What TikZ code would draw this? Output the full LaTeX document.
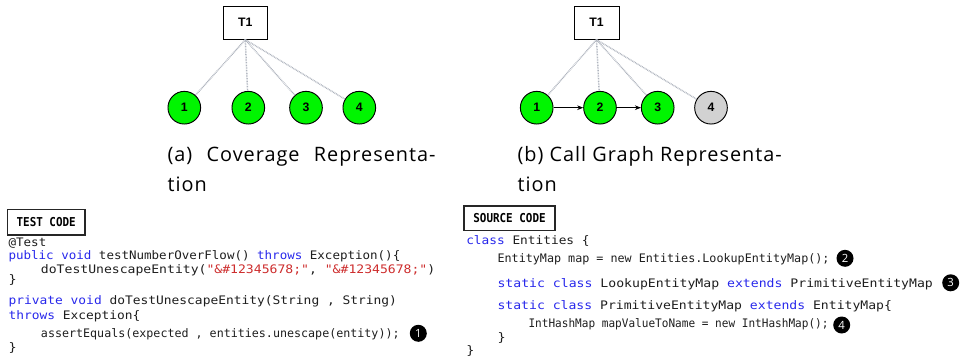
\documentclass[tikz,border=0pt]{standalone}
\usepackage{fontspec}
\usepackage{graphicx}
\usetikzlibrary{arrows.meta}
\newfontfamily\capfont[LetterSpace=5]{Open Sans}
\newfontfamily\numfont{Open Sans}
\newfontfamily\nodefont{Liberation Sans}
\newfontfamily\codefont[FakeStretch=1.15]{DejaVu Sans Mono}
\newfontfamily\labfont[FakeStretch=0.89]{DejaVu Sans Mono}
\definecolor{kwblue}{RGB}{40,40,235}
\definecolor{strred}{RGB}{205,45,45}
\definecolor{codetxt}{RGB}{30,30,30}
\definecolor{dotgray}{RGB}{175,180,190}
\definecolor{nodegreen}{RGB}{0,245,0}
\definecolor{nodegray}{RGB}{210,210,210}
\newcommand{\kw}[1]{\textcolor{kwblue}{#1}}
\newcommand{\str}[1]{\textcolor{strred}{#1}}
\newcommand{\cl}[2]{\resizebox{#1pt}{\height}{#2}}
\tikzset{
  tbox/.style={draw=black, line width=0.7pt, fill=white, minimum width=33pt, minimum height=24.75pt, font=\nodefont\bfseries\fontsize{9.2pt}{11pt}\selectfont, inner sep=0pt},
  gnode/.style={circle, draw=black, line width=0.7pt, fill=nodegreen, minimum size=24.5pt, inner sep=0pt, font=\nodefont\bfseries\fontsize{9.2pt}{11pt}\selectfont},
  graynode/.style={gnode, fill=nodegray},
  cov/.style={draw=dotgray, line width=1.1pt, dash pattern=on 0.6pt off 0.6pt},
  call/.style={draw=black, line width=0.6pt, -{Stealth[length=4.5pt,width=3.5pt]}},
  captext/.style={anchor=base west, inner sep=0pt, font=\capfont\fontsize{14.9pt}{17pt}\selectfont},
  code/.style={anchor=base west, inner sep=0pt, text=codetxt, font=\codefont\fontsize{8.8pt}{10pt}\selectfont},
  codelabel/.style={draw=black!85, line width=0.9pt, inner sep=0pt, font=\labfont\bfseries\fontsize{9.2pt}{11pt}\selectfont},
  marker/.style={circle, fill=black, text=white, minimum size=12.75pt, inner sep=0pt, font=\numfont\fontsize{8.5pt}{10pt}\selectfont}
}
\begin{document}
\begin{tikzpicture}[x=0.75pt, y=-0.75pt]
\useasboundingbox (0,0) rectangle (963,360);
% ---------- (a) coverage ----------
\node[tbox] (ta) at (245.3,22.7) {T1};
\node[gnode] (a1) at (184.3,107.7) {1};
\node[gnode] (a2) at (248.3,107.7) {2};
\node[gnode] (a3) at (306,107.7) {3};
\node[gnode] (a4) at (359.3,107.7) {4};
\foreach \n in {a1,a2,a3,a4} \draw[cov] (ta.south) -- (\n);
\node[captext] (capa1) at (167.3,161) {\makebox[201pt][s]{(a) Coverage Representa-}};
\node[captext] (capa2) at (167.3,191) {tion};
% ---------- (b) call graph ----------
\node[tbox, minimum width=33.75pt] (tb) at (596.5,22.7) {T1};
\node[gnode] (b1) at (536.7,107.7) {1};
\node[gnode] (b2) at (600,107.7) {2};
\node[gnode] (b3) at (657.7,107.7) {3};
\node[graynode] (b4) at (711,107.7) {4};
\foreach \n in {b1,b2,b3,b4} \draw[cov] (tb.south) -- (\n);
\draw[call] (b1) -- (b2);
\draw[call] (b2) -- (b3);
\node[captext] (capb1) at (517.3,161) {(b) Call Graph Representa-};
\node[captext] (capb2) at (517.3,191) {tion};
% ---------- test code ----------
\node[codelabel, minimum width=58.3pt, minimum height=19.3pt] (tc) at (46.2,222.2) {TEST CODE};
\node[code] (t1) at (8.3,246.5) {\cl{28.3}{@Test}};
\node[code] (t2) at (8.3,259) {\cl{293.8}{\kw{public} \kw{void} testNumberOverFlow() \kw{throws} Exception()\{}};
\node[code] (t3) at (40.7,273) {\cl{295.7}{doTestUnescapeEntity(\str{"\&\#12345678;"}, \str{"\&\#12345678;"})}};
\node[code] (t4) at (8.3,283.5) {\}};
\node[code] (t5) at (8.3,304.3) {\cl{291.3}{\kw{private} \kw{void} doTestUnescapeEntity(String , String)}};
\node[code] (t6) at (8.3,319) {\cl{98.8}{\kw{throws} Exception\{}};
\node[code] (t7) at (40.7,337.3) {\cl{269}{assertEquals(expected , entities.unescape(entity));}};
\node[code] (t8) at (8.3,351) {\}};
\node[marker] (m1) at (418.3,333.3) {1};
% ---------- source code ----------
\node[codelabel, minimum width=68.25pt, minimum height=18.5pt] (sc) at (509.5,218.3) {SOURCE CODE};
\node[code] (s1) at (466,244) {\cl{92.5}{\kw{class} Entities \{}};
\node[code] (s2) at (497.3,262) {\cl{249}{EntityMap map = new Entities.LookupEntityMap();}};
\node[code] (s3) at (497.3,287.7) {\cl{326.5}{\kw{static} \kw{class} LookupEntityMap \kw{extends} PrimitiveEntityMap}};
\node[code] (s4) at (497.3,309.7) {\cl{295.8}{\kw{static} \kw{class} PrimitiveEntityMap \kw{extends} EntityMap\{}};
\node[code] (s5) at (528.3,327.7) {\cl{225}{IntHashMap mapValueToName = new IntHashMap();}};
\node[code] (s6) at (497.3,341.5) {\}};
\node[code] (s7) at (466,354.5) {\}};
\node[marker] (m2) at (845,258.3) {2};
\node[marker] (m3) at (950.7,282.8) {3};
\node[marker] (m4) at (841.7,325) {4};
\end{tikzpicture}
\end{document}
